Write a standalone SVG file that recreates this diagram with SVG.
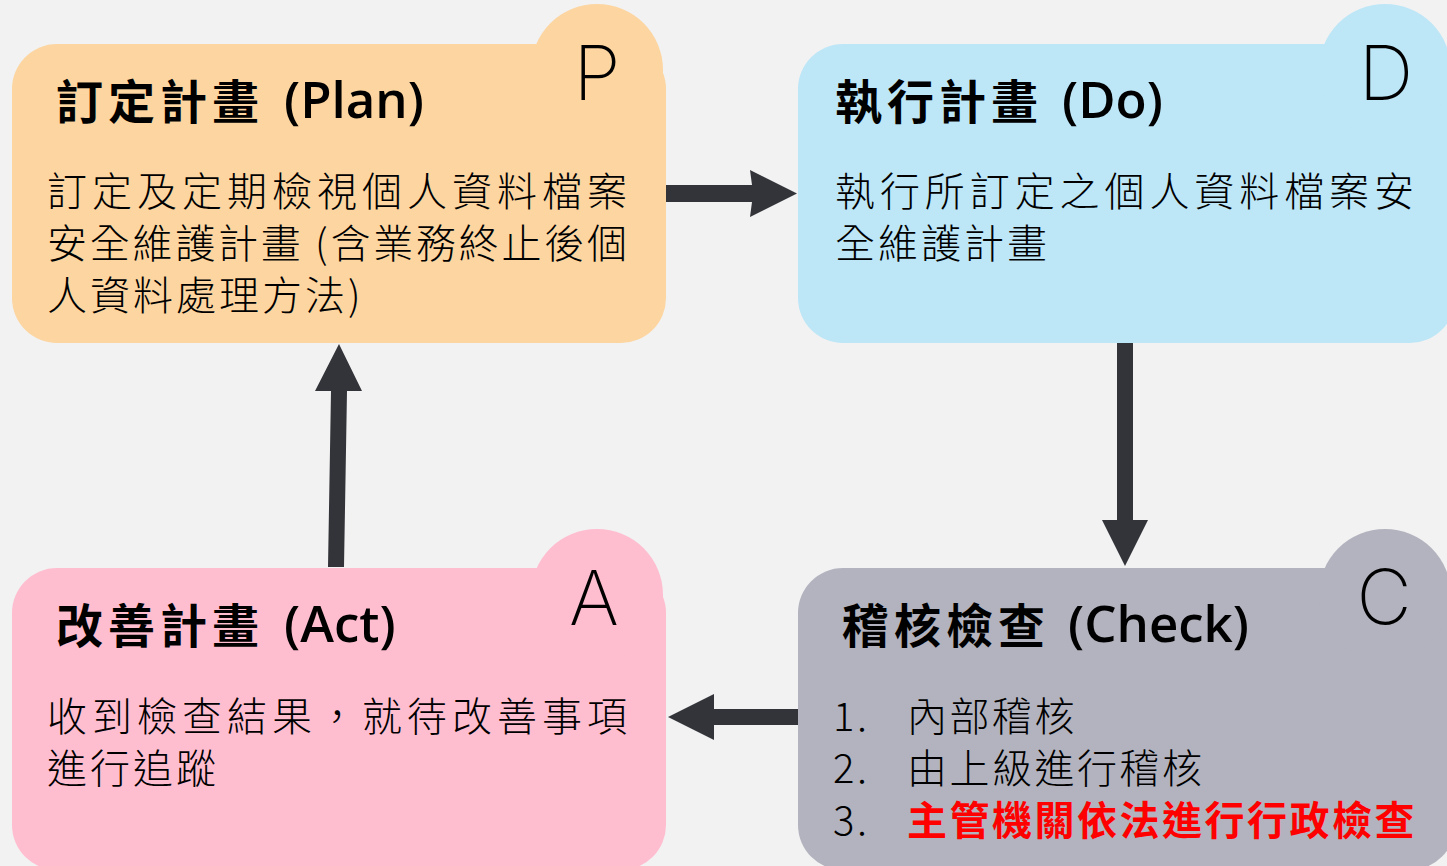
<svg xmlns="http://www.w3.org/2000/svg" width="1447" height="866" viewBox="0 0 1447 866">
<style>
.title{font-family:"Noto Sans CJK TC","Noto Sans",sans-serif;font-weight:700;font-size:47px;letter-spacing:5px;fill:#000}
.lat{font-family:"Open Sans","Noto Sans",sans-serif;font-weight:600;font-size:51px;letter-spacing:0}
.body{font-family:"Noto Sans CJK TC","Noto Sans",sans-serif;font-weight:300;font-size:40px;letter-spacing:3px;fill:#000}
.list{font-family:"Noto Sans CJK TC","Noto Sans",sans-serif;font-weight:300;font-size:40px;letter-spacing:2.5px;fill:#000}
.red{fill:#ff0000;font-weight:700}
.letter{font-family:Inter,"Noto Sans",sans-serif;font-weight:200;font-size:76px;fill:#000;text-anchor:middle}
.arrow{fill:#333439}
</style>
<rect width="1447" height="866" fill="#f2f2f2"/>
<g id="plan">
<rect x="12" y="44" width="654" height="299" rx="45" fill="#fcd5a0"/>
<circle cx="597" cy="70" r="66" fill="#fcd5a0"/>
<text class="letter" x="597" y="100">P</text>
<text class="title" x="56" y="119">訂定計畫<tspan class="lat" x="284" y="118">(Plan)</tspan></text>
<text class="body" x="47" y="206" textLength="583" lengthAdjust="spacing">訂定及定期檢視個人資料檔案</text>
<text class="body" x="47" y="258" textLength="583" lengthAdjust="spacing">安全維護計畫 (含業務終止後個</text>
<text class="body" x="47" y="310">人資料處理方法)</text>
</g>
<g id="do">
<rect x="798" y="44" width="657" height="299" rx="45" fill="#bde6f7"/>
<circle cx="1385" cy="70" r="66" fill="#bde6f7"/>
<text class="letter" x="1386" y="100">D</text>
<text class="title" x="835" y="119">執行計畫<tspan class="lat" x="1062" y="118">(Do)</tspan></text>
<text class="body" x="835" y="206" textLength="582" lengthAdjust="spacing">執行所訂定之個人資料檔案安</text>
<text class="body" x="835" y="258">全維護計畫</text>
</g>
<g id="act">
<rect x="12" y="568" width="654" height="302" rx="45" fill="#ffbdd0"/>
<circle cx="597" cy="595" r="66" fill="#ffbdd0"/>
<text class="letter" x="594" y="625">A</text>
<text class="title" x="56" y="643">改善計畫<tspan class="lat" x="284" y="642">(Act)</tspan></text>
<text class="body" x="47" y="731" textLength="583" lengthAdjust="spacing">收到檢查結果，就待改善事項</text>
<text class="body" x="47" y="783">進行追蹤</text>
</g>
<g id="check">
<rect x="798" y="568" width="657" height="302" rx="45" fill="#b2b3be"/>
<circle cx="1385" cy="595" r="66" fill="#b2b3be"/>
<text class="letter" x="1384" y="624">C</text>
<text class="title" x="842" y="643">稽核檢查<tspan class="lat" x="1068" y="642">(Check)</tspan></text>
<text class="list" x="833" y="731">1.</text>
<text class="list" x="907" y="731">內部稽核</text>
<text class="list" x="833" y="783">2.</text>
<text class="list" x="907" y="783">由上級進行稽核</text>
<text class="list" x="833" y="835">3.</text>
<text class="list red" x="907" y="835">主管機關依法進行行政檢查</text>
</g>
<g id="connectors">
<polygon class="arrow" points="666,185 752,185 750,170 797,193.5 750,217 752,202 666,202"/>
<polygon class="arrow" points="1117,343 1133,343 1133,520 1148,520 1125,566 1102,520 1117,520"/>
<polygon class="arrow" points="798,709 798,725 714,725 714,740 668,717 714,694 714,709"/>
<polygon class="arrow" points="328,567 344,567 347,391 362,391 339,344 315,391 331,391"/>
</g>
</svg>
